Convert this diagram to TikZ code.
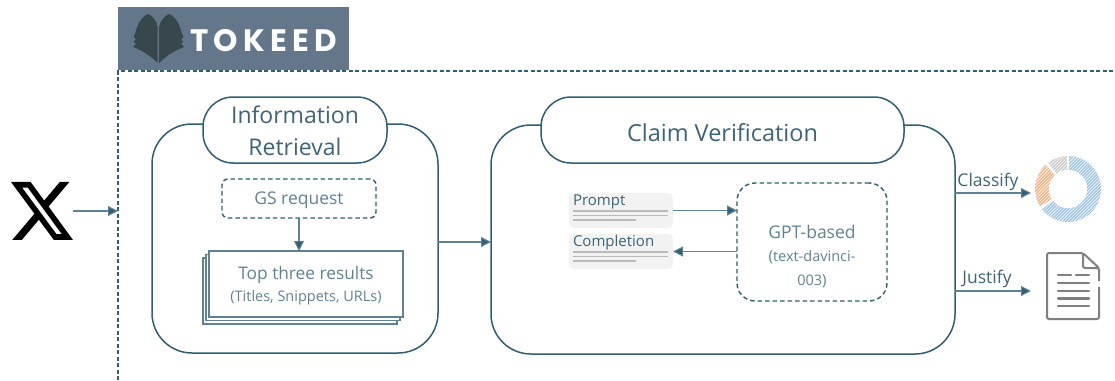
\documentclass[tikz,border=0pt]{standalone}
\usepackage{fontspec}
\setmainfont{Open Sans}
\newfontfamily\logofont[LetterSpace=17]{Poppins}
\usetikzlibrary{arrows.meta}
\definecolor{teal}{HTML}{2F5F73}
\definecolor{tealtext}{HTML}{3D6478}
\definecolor{teallight}{HTML}{5F8292}
\definecolor{logobg}{HTML}{64778A}
\definecolor{logodark}{HTML}{37474B}
\definecolor{donutblue}{HTML}{9DC3E6}
\definecolor{donutorange}{HTML}{F4B183}
\definecolor{donutgray}{HTML}{C9C9C9}
\tikzset{
  panel/.style={draw=teal,line width=1.5pt,fill=white,inner sep=0pt,outer sep=0pt},
  lbl/.style={text=tealtext,align=center,inner sep=0pt,outer sep=0pt},
  dashbox/.style={draw=teal,line width=1.4pt,dash pattern=on 4.5pt off 3pt,inner sep=0pt,outer sep=0pt,fill=white},
  stackbox/.style={draw=teallight,line width=1.1pt,fill=white,minimum width=194pt,minimum height=66pt,inner sep=0pt,outer sep=0pt},
  notebox/.style={fill=black!5,rounded corners=5pt,minimum width=104pt,minimum height=35pt,inner sep=0pt,outer sep=0pt},
  noteline/.style={draw=black!27,line width=1.4pt},
  conn/.style={draw=teallight,line width=1.1pt,-{Triangle[length=10pt,width=10pt,fill=teal]}},
  docline/.style={draw=black!50,line width=2.4pt,line cap=round},
}
\begin{document}
\begin{tikzpicture}[x=1pt,y=-1pt]
\useasboundingbox (0,0) rectangle (1115,380);
% logo banner
\fill[logobg] (118,7) rectangle (349,70);
\fill[logodark] (157.6,63) -- (157.6,27) .. controls (157,21) and (153,16) .. (148,14) .. controls (141,17) and (137,25) .. (135,34) -- (133.5,37) -- (136,39.5) -- (133.5,41.5) -- (136,43.5) -- (133,47) .. controls (141,50) and (150,55) .. cycle;
\fill[logodark] (159.2,63) -- (159.2,27) .. controls (160,21) and (164,16) .. (169,14) .. controls (176,17) and (180,25) .. (182,34) -- (183.5,37) -- (181,39.5) -- (183.5,41.5) -- (181,43.5) -- (184,47) .. controls (176,50) and (167,55) .. cycle;
\node[text=white,inner sep=0pt,anchor=west] (logotext) at (190,41) {\logofont\fontsize{31}{31}\selectfont\bfseries TOKEED};
% frame
\coordinate (frameA) at (118,380);
\coordinate (frameB) at (118,71);
\coordinate (frameC) at (1115,71);
\draw[teal,line width=1.2pt,dash pattern=on 4pt off 2.5pt] (frameA) -- (frameB) -- (frameC);
% X logo
\node[minimum width=62pt,minimum height=58pt,inner sep=0pt,outer sep=0pt] (xlogo) at (42,211) {};
\begin{scope}[shift={(7.4,175.3)},x=2.874pt,y=-2.974pt]
\fill[black,even odd rule] (18.244,2.25) -- (21.552,2.25) -- (14.325,10.51) -- (22.827,21.75) -- (16.17,21.75) -- (10.956,14.933) -- (4.99,21.75) -- (1.68,21.75) -- (9.41,12.915) -- (1.254,2.25) -- (8.08,2.25) -- (12.793,8.481) -- cycle
 (17.083,19.77) -- (18.916,19.77) -- (7.084,4.126) -- (5.117,4.126) -- cycle;
\end{scope}
% information retrieval
\node[panel,rounded corners=40pt,minimum width=286pt,minimum height=229pt] (ir) at (295,238.5) {};
\node[panel,rounded corners=30pt,minimum width=184pt,minimum height=66pt] (irtitle) at (295,130) {};
\node[lbl,font=\fontsize{23}{32}\selectfont] (irtext) at (295,131) {Information\\Retrieval};
\node[dashbox,rounded corners=6pt,minimum width=154pt,minimum height=39pt] (gs) at (299,198.5) {};
\node[lbl,text=teallight,font=\fontsize{17.5}{20}\selectfont] (gstext) at (299,200) {GS request};
\node[stackbox] (s3) at (300,291) {};
\node[stackbox] (s2) at (303,287.5) {};
\node[stackbox] (s1) at (306,284) {};
\node[lbl,text=teallight,font=\fontsize{17.3}{20}\selectfont] (toptext) at (306,275.5) {Top three results};
\node[lbl,text=teallight,font=\fontsize{14.5}{16}\selectfont] (subtext) at (306,298) {(Titles, Snippets, URLs)};
\draw[conn] (gs.south) -- (gs.south |- s1.north);
% claim verification
\node[panel,rounded corners=40pt,minimum width=464pt,minimum height=229pt] (cv) at (723,239.5) {};
\node[panel,rounded corners=30pt,minimum width=363pt,minimum height=66pt] (cvtitle) at (722.5,130) {};
\node[lbl,font=\fontsize{23.5}{30}\selectfont] (cvtext) at (722.5,133) {Claim Verification};
\node[notebox] (prompt) at (621,210.5) {};
\node[notebox] (comp) at (621,251.5) {};
\node[lbl,anchor=west,font=\fontsize{15}{16}\selectfont,text=tealtext] (ptext) at (573,202) {Prompt};
\node[lbl,anchor=west,font=\fontsize{15}{16}\selectfont,text=tealtext] (ctext) at (573,243) {Completion};
\draw[noteline] (573,211) -- (668,211) (573,215.5) -- (668,215.5) (573,220) -- (636,220);
\draw[noteline] (573,252) -- (668,252) (573,256.5) -- (668,256.5) (573,261) -- (636,261);
\node[dashbox,rounded corners=18pt,minimum width=150pt,minimum height=118pt] (gpt) at (812,242) {};
\node[lbl,text=teallight,font=\fontsize{17.5}{24}\selectfont] (gpttext) at (812,232) {GPT-based};
\node[lbl,text=teallight,font=\fontsize{15}{24}\selectfont] (gptsub) at (812,269) {({\fontsize{14.5}{24}\selectfont text-davinci-}\\{\fontsize{14.5}{24}\selectfont 003})};
\draw[conn] (prompt.east) -- (prompt.east -| gpt.west);
\draw[conn] (comp.east -| gpt.west) -- (comp.east);
% flow
\draw[conn] (xlogo.east) -- (xlogo.east -| frameB);
\draw[conn] (ir.east) ++(0,3.5) coordinate (irout) -- (irout -| cv.west);
\coordinate (classifyend) at (1031,193);
\coordinate (justifyend) at (1031,291);
\draw[conn] (classifyend -| cv.east) -- (classifyend);
\draw[conn] (justifyend -| cv.east) -- (justifyend);
\node[lbl,font=\fontsize{17.5}{20}\selectfont] (classify) at (988,182) {Classify};
\node[lbl,font=\fontsize{17.5}{20}\selectfont] (justify) at (987,279) {Justify};
% donut
\begin{scope}[shift={(1068,189)},y=1pt]
\fill[donutblue] (88:33) arc[start angle=88,end angle=-142,radius=33] -- (-142:19) arc[start angle=-142,end angle=88,radius=19] -- cycle;
\fill[donutorange] (212:33) arc[start angle=212,end angle=133,radius=33] -- (133:19) arc[start angle=133,end angle=212,radius=19] -- cycle;
\fill[donutgray] (127:33) arc[start angle=127,end angle=92,radius=33] -- (92:19) arc[start angle=92,end angle=127,radius=19] -- cycle;
\begin{scope}
\clip (0,0) circle (33.5);
\foreach \k in {-16,...,16} {
  \draw[white,line width=0.6pt] (\k*3.2-35,-35) -- (\k*3.2+35,35);
}
\end{scope}
\fill[white] (0,0) circle (19);
\end{scope}
% document icon
\draw[black!50,line width=2pt,line join=round,rounded corners=2pt] (1099,281) -- (1099,268) -- (1083,253) -- (1047,253) -- (1047,319) -- (1099,319) -- (1099,287);
\draw[black!50,line width=2pt,line join=round,rounded corners=2pt] (1083,253) -- (1083,268) -- (1099,268);
\draw[docline] (1058,275) -- (1071,275) (1076,275) -- (1089,275);
\foreach \yy in {283,291,298.5,306} { \draw[docline] (1058,\yy) -- (1089,\yy); }
\end{tikzpicture}
\end{document}
